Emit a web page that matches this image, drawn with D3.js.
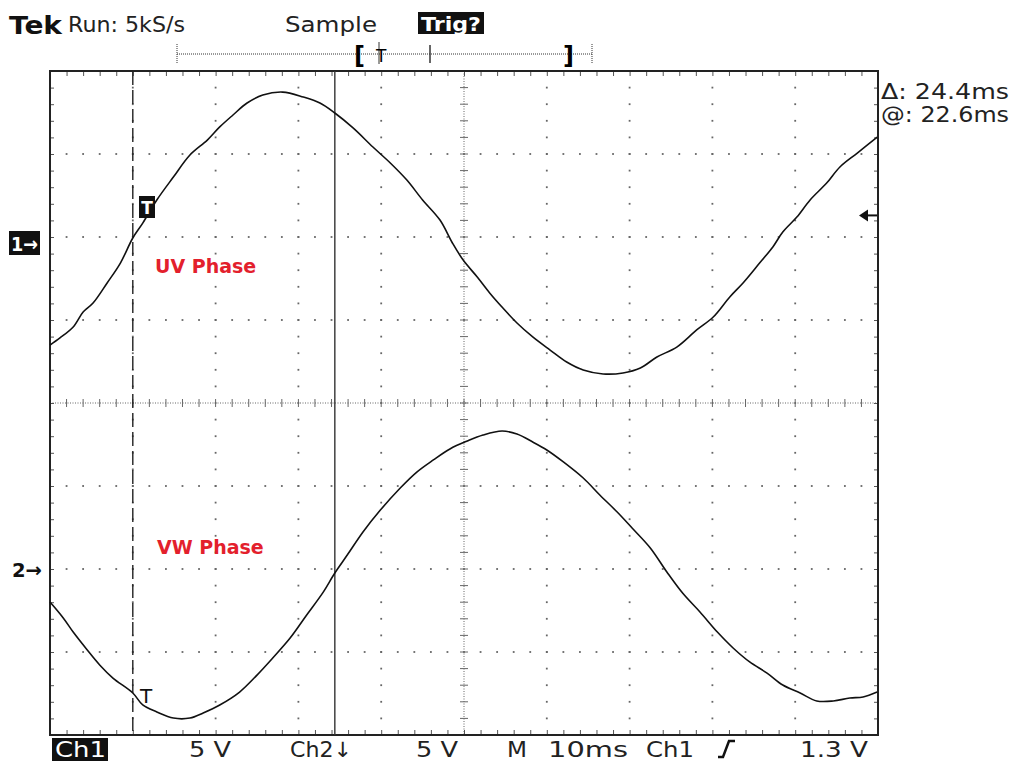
<!DOCTYPE html>
<html>
<head>
<meta charset="utf-8">
<script src="https://cdn.jsdelivr.net/npm/d3@7"></script>
<style>
  body { margin: 0; background: #fff; }
  text { font-family: "DejaVu Sans", sans-serif; }
</style>
</head>
<body>
<svg id="scope" width="1024" height="762"></svg>
<script>
// Scope settings
var timePerDiv = 10;      // ms
var voltsPerDiv = 5;      // V, both channels
var ch1Offset = 2;        // divs above centre
var ch2Offset = -2;       // divs below centre
var cursors = [10, 34.4]; // ms, dashed then solid
var trigLevel = 1.3;      // V on ch1

// Ch1 (UV phase) samples: time in ms, value in V
var uvTime = [0, 1.2, 2.8, 4.0, 5.2, 6.9, 8.5, 10.0, 11.2, 12.9, 14.9, 16.9, 19.0, 20.5, 22.1, 23.8,
  25.7, 28.1, 30.6, 32.6, 34.4, 36.6, 39.0, 41.1, 43.1, 45.0, 47.1, 48.6, 49.9, 51.6, 53.1,
  54.7, 56.4, 58.3, 60.4, 62.4, 64.4, 66.8, 69.2, 71.3, 73.3, 75.7, 78.1, 80.1, 82.1, 83.7,
  85.7, 87.3, 88.5, 90.2, 91.8, 93.8, 95.4, 97.5, 99.9];
var uvVolts = [-6.51, -6.08, -5.42, -4.52, -3.98, -2.77, -1.57, -0.06, 0.84, 2.23, 3.61, 4.94, 5.84, 6.63, 7.35, 8.07,
  8.55, 8.73, 8.43, 8.07, 7.47, 6.57, 5.42, 4.46, 3.43, 2.23, 1.02, -0.36, -1.39, -2.41, -3.37,
  -4.28, -5.18, -6.02, -6.81, -7.53, -8.01, -8.25, -8.19, -7.89, -7.23, -6.63, -5.60, -4.82, -3.61, -2.77,
  -1.57, -0.60, 0.30, 1.20, 2.23, 3.25, 4.22, 5.06, 6.02];

// Ch2 (VW phase) samples
var vwTime = [0, 1.6, 2.8, 4.5, 6.0, 7.6, 10.0, 11.2, 12.9, 14.9, 16.9, 18.5, 20.5, 22.9, 25.0,
  26.9, 29.0, 31.0, 33.0, 34.4, 35.9, 37.8, 39.9, 42.3, 44.3, 46.3, 48.3, 50.4, 52.3, 54.6,
  56.4, 58.3, 60.0, 62.0, 64.4, 66.4, 68.5, 70.3, 72.5, 74.5, 76.4, 78.5, 80.6, 82.5, 84.5,
  86.6, 88.5, 90.6, 92.6, 94.6, 96.6, 98.2, 99.9];
var vwVolts = [-1.99, -2.95, -3.80, -4.88, -5.78, -6.57, -7.47, -8.19, -8.61, -8.98, -8.98, -8.67, -8.19, -7.41, -6.39,
  -5.36, -4.16, -2.77, -1.39, -0.24, 0.84, 2.23, 3.55, 4.88, 5.84, 6.57, 7.23, 7.71, 8.07, 8.31,
  8.13, 7.65, 7.17, 6.45, 5.48, 4.46, 3.43, 2.47, 1.27, -0.18, -1.45, -2.59, -3.80, -4.76, -5.60,
  -6.27, -6.99, -7.47, -7.95, -7.95, -7.77, -7.71, -7.41];

// Readouts
var headerLabels = ['Run: 5kS/s', 'Sample', 'Trig?'];
var cursorLabels = ['\u0394: 24.4ms', '@: 22.6ms'];
var footerLabels = ['Ch1', '5 V', 'Ch2\u2193', '5 V', 'M', '10ms', 'Ch1', '1.3 V'];
var phaseLabels = ['UV Phase', 'VW Phase'];

var svg = d3.select('#scope');
var gLeft = 50, gRight = 878, gTop = 71, gBottom = 735;

var x = d3.scaleLinear().domain([0, 10 * timePerDiv]).range([gLeft, gRight]);
var yDiv = d3.scaleLinear().domain([-4, 4]).range([gBottom, gTop]);
function yCh(offset) {
  return function(v) { return yDiv(offset + v / voltsPerDiv); };
}
var y1 = yCh(ch1Offset), y2 = yCh(ch2Offset);

var minor = d3.range(0, 100.01, timePerDiv / 5);
var minorV = d3.range(-4, 4.01, 0.2);

// graticule dots on every division line
var grid = svg.append('g').attr('fill', '#666');
d3.range(1, 10).filter(function(d) { return d !== 5; }).forEach(function(d) {
  grid.selectAll(null).data(minorV.slice(1, -1)).enter().append('rect')
    .attr('x', x(d * timePerDiv) - 0.9).attr('y', function(v) { return yDiv(v) - 0.9; })
    .attr('width', 1.8).attr('height', 1.8);
});
d3.range(-3, 4).filter(function(d) { return d !== 0; }).forEach(function(d) {
  grid.selectAll(null).data(minor.slice(1, -1)).enter().append('rect')
    .attr('x', function(t) { return x(t) - 0.9; }).attr('y', yDiv(d) - 0.9)
    .attr('width', 1.8).attr('height', 1.8);
});

// centre lines with cross ticks
var centre = svg.append('g').attr('stroke', '#666').attr('stroke-width', 1);
centre.append('line').attr('x1', gLeft).attr('x2', gRight).attr('y1', yDiv(0)).attr('y2', yDiv(0))
  .attr('stroke-dasharray', '1,1.5');
centre.append('line').attr('x1', x(50)).attr('x2', x(50)).attr('y1', gTop).attr('y2', gBottom)
  .attr('stroke-dasharray', '1,1.5');
centre.selectAll(null).data(minor).enter().append('line')
  .attr('x1', function(t) { return x(t); }).attr('x2', function(t) { return x(t); })
  .attr('y1', yDiv(0) - 4).attr('y2', yDiv(0) + 4);
centre.selectAll(null).data(minorV).enter().append('line')
  .attr('x1', x(50) - 4).attr('x2', x(50) + 4)
  .attr('y1', function(v) { return yDiv(v); }).attr('y2', function(v) { return yDiv(v); });

// frame ticks using axes, all pointing inward
function edge(axis, tr) {
  var g = svg.append('g').attr('transform', tr).call(axis);
  g.select('.domain').remove();
  g.selectAll('line').attr('stroke', '#555');
}
edge(d3.axisBottom(x).tickValues(minor).tickSize(5).tickFormat(''), 'translate(0,' + gTop + ')');
edge(d3.axisTop(x).tickValues(minor).tickSize(5).tickFormat(''), 'translate(0,' + gBottom + ')');
edge(d3.axisRight(yDiv).tickValues(minorV).tickSize(4).tickFormat(''), 'translate(' + gLeft + ',0)');
edge(d3.axisLeft(yDiv).tickValues(minorV).tickSize(4).tickFormat(''), 'translate(' + gRight + ',0)');

svg.append('rect').attr('x', gLeft).attr('y', gTop).attr('width', gRight - gLeft).attr('height', gBottom - gTop)
  .attr('fill', 'none').attr('stroke', '#222').attr('stroke-width', 2);

// cursors
svg.append('line').attr('x1', x(cursors[0])).attr('x2', x(cursors[0])).attr('y1', gTop).attr('y2', gBottom)
  .attr('stroke', '#222').attr('stroke-width', 1.4).attr('stroke-dasharray', '14,5');
svg.append('line').attr('x1', x(cursors[1])).attr('x2', x(cursors[1])).attr('y1', gTop).attr('y2', gBottom)
  .attr('stroke', '#333').attr('stroke-width', 1.4);

// traces
var line1 = d3.line().curve(d3.curveCatmullRom)
  .x(function(d, i) { return x(uvTime[i]); }).y(function(d) { return y1(d); });
var line2 = d3.line().curve(d3.curveCatmullRom)
  .x(function(d, i) { return x(vwTime[i]); }).y(function(d) { return y2(d); });
svg.append('path').attr('d', line1(uvVolts)).attr('fill', 'none').attr('stroke', '#111').attr('stroke-width', 1.6);
svg.append('path').attr('d', line2(vwVolts)).attr('fill', 'none').attr('stroke', '#111').attr('stroke-width', 1.6);

// trigger markers on the traces
svg.append('rect').attr('x', 139).attr('y', 196).attr('width', 16).attr('height', 22).attr('fill', '#111');
svg.append('text').attr('x', 147).attr('y', 214).attr('text-anchor', 'middle').attr('fill', '#fff')
  .attr('font-size', 17).attr('font-weight', 'bold').text('T');
svg.append('text').attr('x', 146).attr('y', 703).attr('text-anchor', 'middle').attr('fill', '#111')
  .attr('font-size', 20).text('T');

// channel ground markers
svg.append('rect').attr('x', 9).attr('y', 231).attr('width', 31).attr('height', 24).attr('fill', '#111');
svg.append('text').attr('x', 11).attr('y', 251).attr('fill', '#fff')
  .attr('font-size', 20).attr('font-weight', 'bold')
  .attr('textLength', 27).attr('lengthAdjust', 'spacingAndGlyphs').text('1\u2192');
svg.append('text').attr('x', 12).attr('y', y2(0) + 8).attr('fill', '#111')
  .attr('font-size', 20).attr('font-weight', 'bold')
  .attr('textLength', 30).attr('lengthAdjust', 'spacingAndGlyphs').text('2\u2192');

// trigger level arrow on the right
var ty = y1(trigLevel);
svg.append('line').attr('x1', 866).attr('x2', 877).attr('y1', ty).attr('y2', ty).attr('stroke', '#111').attr('stroke-width', 2);
svg.append('path').attr('d', 'M859,' + ty + 'L868,' + (ty - 6) + 'L868,' + (ty + 6) + 'Z').attr('fill', '#111');

// record position ruler
var ruler = svg.append('g').attr('stroke', '#333');
ruler.append('line').attr('x1', 177).attr('x2', 592).attr('y1', 54).attr('y2', 54).attr('stroke-dasharray', '1,1');
[177, 592].forEach(function(px) {
  ruler.append('line').attr('x1', px).attr('x2', px).attr('y1', 44).attr('y2', 64).attr('stroke-dasharray', '1,1');
});
ruler.append('line').attr('x1', 430).attr('x2', 430).attr('y1', 45).attr('y2', 63).attr('stroke-width', 1.5);
ruler.append('line').attr('x1', 379).attr('x2', 379).attr('y1', 42).attr('y2', 64);
svg.append('text').attr('x', 354).attr('y', 64).attr('font-size', 24).attr('font-weight', 'bold').text('[');
svg.append('text').attr('x', 563).attr('y', 64).attr('font-size', 24).attr('font-weight', 'bold').text(']');
svg.append('text').attr('x', 376).attr('y', 62).attr('font-size', 17).text('T');

// header readout
svg.append('text').attr('x', 9).attr('y', 34).attr('font-size', 25).attr('font-weight', 'bold')
  .attr('textLength', 53).attr('lengthAdjust', 'spacingAndGlyphs').attr('fill', '#111').text('Tek');
svg.append('text').attr('x', 68).attr('y', 32).attr('font-size', 21)
  .attr('textLength', 117).attr('lengthAdjust', 'spacingAndGlyphs').attr('fill', '#222').text(headerLabels[0]);
svg.append('text').attr('x', 285).attr('y', 32).attr('font-size', 21)
  .attr('textLength', 92).attr('lengthAdjust', 'spacingAndGlyphs').attr('fill', '#222').text(headerLabels[1]);
svg.append('rect').attr('x', 418).attr('y', 12).attr('width', 66).attr('height', 22).attr('fill', '#111');
svg.append('text').attr('x', 421).attr('y', 31).attr('font-size', 20).attr('font-weight', 'bold')
  .attr('textLength', 60).attr('lengthAdjust', 'spacingAndGlyphs').attr('fill', '#fff').text(headerLabels[2]);

// cursor readout
svg.selectAll('.cur').data(cursorLabels).enter().append('text')
  .attr('x', 881).attr('y', function(d, i) { return 99 + i * 23; })
  .attr('font-size', 21).attr('textLength', 128).attr('lengthAdjust', 'spacingAndGlyphs')
  .attr('fill', '#222').text(function(d) { return d; });

// footer readout
var footX = [55, 189, 290, 416, 507, 548, 646, 800];
var footW = [51, 42, 62, 42, 20, 80, 48, 68];
svg.append('rect').attr('x', 52).attr('y', 738).attr('width', 56).attr('height', 23).attr('fill', '#111');
svg.selectAll('.foot').data(footerLabels).enter().append('text')
  .attr('x', function(d, i) { return footX[i]; }).attr('y', 757)
  .attr('font-size', 21).attr('textLength', function(d, i) { return footW[i]; })
  .attr('lengthAdjust', 'spacingAndGlyphs')
  .attr('fill', function(d, i) { return i === 0 ? '#fff' : '#222'; })
  .text(function(d) { return d; });
// rising edge symbol
svg.append('path').attr('d', 'M718,757 L723,757 L729,741 L735,741').attr('fill', 'none')
  .attr('stroke', '#111').attr('stroke-width', 2.5);

// phase labels
svg.selectAll('.phase').data(phaseLabels).enter().append('text')
  .attr('x', function(d, i) { return i ? 157 : 155; })
  .attr('y', function(d, i) { return i ? 554 : 273; })
  .attr('font-family', '"Open Sans", sans-serif').attr('font-weight', 'bold').attr('font-size', 19)
  .attr('fill', '#e3202c').text(function(d) { return d; });
</script>
</body>
</html>
